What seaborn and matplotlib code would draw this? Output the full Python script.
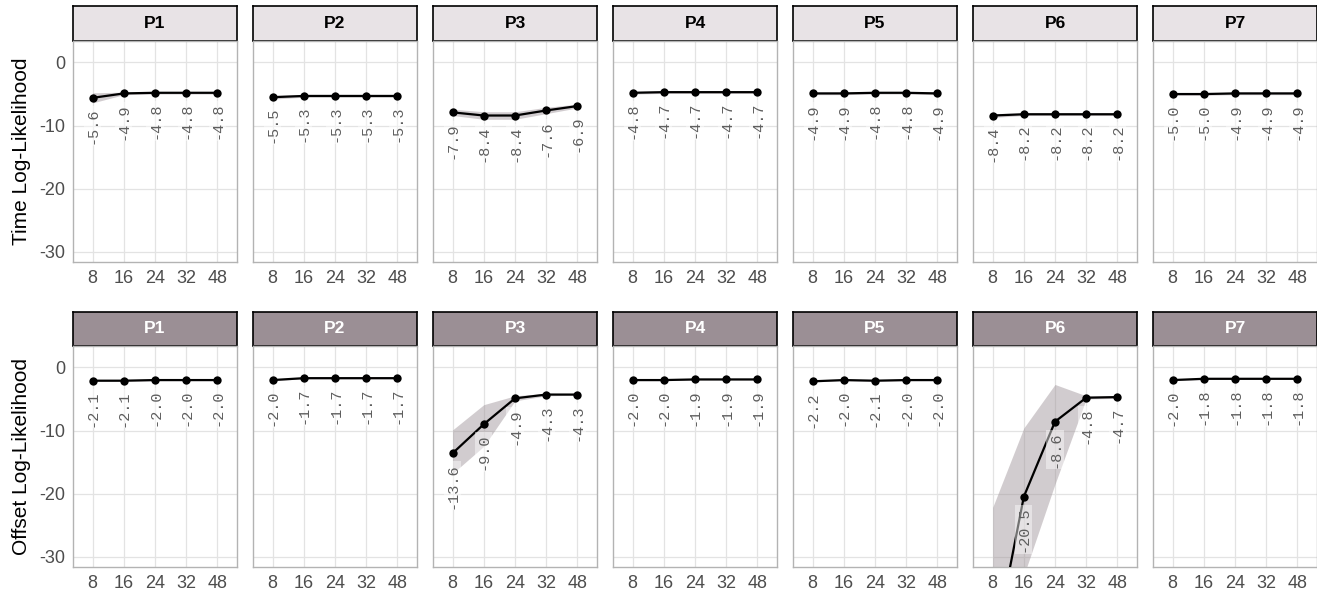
import numpy as np
import matplotlib.pyplot as plt
import seaborn as sns

sns.set_theme(style='white')
plt.rcParams['font.family'] = ['Liberation Sans', 'DejaVu Sans']
plt.rcParams['axes.unicode_minus'] = False

# Data
panels = ['P1', 'P2', 'P3', 'P4', 'P5', 'P6', 'P7']
x_labels = ['8', '16', '24', '32', '48']

time_vals = [
    [-5.6, -4.9, -4.8, -4.8, -4.8],
    [-5.5, -5.3, -5.3, -5.3, -5.3],
    [-7.9, -8.4, -8.4, -7.6, -6.9],
    [-4.8, -4.7, -4.7, -4.7, -4.7],
    [-4.9, -4.9, -4.8, -4.8, -4.9],
    [-8.4, -8.2, -8.2, -8.2, -8.2],
    [-5.0, -5.0, -4.9, -4.9, -4.9],
]
time_lo = [
    [-6.4, -5.1, -5.0, -5.0, -5.0],
    [-5.8, -5.5, -5.5, -5.5, -5.5],
    [-8.4, -9.0, -9.0, -8.1, -7.2],
    [-5.0, -4.9, -4.9, -4.9, -4.9],
    [-5.1, -5.1, -5.0, -5.0, -5.1],
    [-8.7, -8.4, -8.4, -8.4, -8.4],
    [-5.2, -5.2, -5.1, -5.1, -5.1],
]
time_hi = [
    [-4.8, -4.7, -4.6, -4.6, -4.6],
    [-5.2, -5.1, -5.1, -5.1, -5.1],
    [-7.4, -7.8, -7.8, -7.1, -6.6],
    [-4.6, -4.5, -4.5, -4.5, -4.5],
    [-4.7, -4.7, -4.6, -4.6, -4.7],
    [-8.1, -8.0, -8.0, -8.0, -8.0],
    [-4.8, -4.8, -4.7, -4.7, -4.7],
]

offset_vals = [
    [-2.1, -2.1, -2.0, -2.0, -2.0],
    [-2.0, -1.7, -1.7, -1.7, -1.7],
    [-13.6, -9.0, -4.9, -4.3, -4.3],
    [-2.0, -2.0, -1.9, -1.9, -1.9],
    [-2.2, -2.0, -2.1, -2.0, -2.0],
    [-45.8, -20.5, -8.6, -4.8, -4.7],
    [-2.0, -1.8, -1.8, -1.8, -1.8],
]
offset_lo = [
    [-2.2, -2.2, -2.1, -2.1, -2.1],
    [-2.1, -1.8, -1.8, -1.8, -1.8],
    [-16.8, -12.5, -5.3, -4.5, -4.4],
    [-2.1, -2.1, -2.0, -2.0, -2.0],
    [-2.3, -2.1, -2.2, -2.1, -2.1],
    [-60.0, -33.0, -18.5, -5.0, -4.9],
    [-2.1, -1.9, -1.9, -1.9, -1.9],
]
offset_hi = [
    [-2.0, -2.0, -1.9, -1.9, -1.9],
    [-1.9, -1.6, -1.6, -1.6, -1.6],
    [-9.9, -5.9, -4.5, -4.1, -4.2],
    [-1.9, -1.9, -1.8, -1.8, -1.8],
    [-2.1, -1.9, -2.0, -1.9, -1.9],
    [-22.2, -9.6, -2.7, -4.5, -4.5],
    [-1.9, -1.7, -1.7, -1.7, -1.7],
]

rows = [
    ('Time Log-Likelihood', time_vals, time_lo, time_hi, '#e8e3e6', 'black'),
    ('Offset Log-Likelihood', offset_vals, offset_lo, offset_hi, '#9b8f95', 'white'),
]

W, H = 1317, 596
fig = plt.figure(figsize=(W / 100, H / 100), dpi=100)


def box(x0, y0, x1, y1):
    # pixel box (top-left origin) -> figure fraction rect
    return [x0 / W, 1 - y1 / H, (x1 - x0) / W, (y1 - y0) / H]


strip_top = [6, 311.7]
panel_top = [40.7, 345.7]
panel_bot = [262, 566.7]
xpos = np.arange(len(x_labels))

for r, (ylabel, vals, lo, hi, strip_col, strip_txt) in enumerate(rows):
    for j, name in enumerate(panels):
        x0 = 73.3 + 180 * j
        x1 = x0 + 163.4

        # facet strip
        sax = fig.add_axes(box(x0, strip_top[r], x1, panel_top[r]))
        sax.set_facecolor(strip_col)
        sax.set_xticks([])
        sax.set_yticks([])
        for sp in sax.spines.values():
            sp.set_color('black')
            sp.set_linewidth(1.2)
        sax.text(0.5, 0.5, name, ha='center', va='center', fontsize=12.5,
                 fontweight='bold', color=strip_txt, transform=sax.transAxes)

        # panel
        ax = fig.add_axes(box(x0, panel_top[r], x1, panel_bot[r]))
        ax.fill_between(xpos, lo[j], hi[j], color='#9b8f95', alpha=0.45,
                        linewidth=0, zorder=1)
        sns.lineplot(x=xpos, y=vals[j], ax=ax, color='black', marker='o',
                     markersize=6, markeredgewidth=0, linewidth=1.6, zorder=3)
        for xi, v in zip(xpos, vals[j]):
            ax.annotate(f'{v:.1f}', (xi, v), xytext=(0, -7),
                        textcoords='offset points', rotation=90,
                        ha='center', va='top', family='Liberation Mono',
                        fontsize=11, color='#5e5e5e', zorder=4,
                        bbox=dict(boxstyle='square,pad=0.1', fc='white',
                                  ec='none', alpha=0.45))

        ax.set_xlim(-0.62, 4.62)
        ax.set_ylim(-31.6, 3.45)
        ax.set_xticks(xpos)
        ax.set_xticklabels(x_labels)
        ax.set_yticks([-30, -20, -10, 0])
        ax.grid(True, color='#e3e3e3', linewidth=0.9)
        ax.set_axisbelow(True)
        ax.tick_params(length=0, labelsize=13, labelcolor='#4d4d4d', pad=6)
        for sp in ax.spines.values():
            sp.set_color('#b3b3b3')
            sp.set_linewidth(1)
        if j == 0:
            ax.set_ylabel(ylabel, fontsize=15, color='black', labelpad=6)
        else:
            ax.set_yticklabels([])
            ax.set_ylabel('')

fig.savefig('out.png', dpi=100)
